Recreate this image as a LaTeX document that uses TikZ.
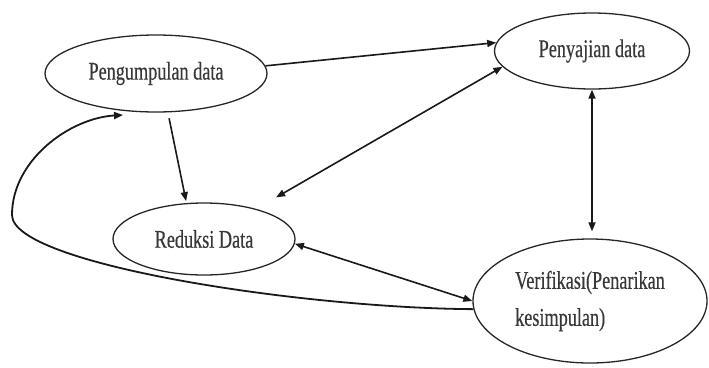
\documentclass[tikz,border=0pt]{standalone}
\usepackage{fontspec}
\usepackage{graphicx}
\setmainfont[FakeBold=0.5]{Liberation Serif}
\usetikzlibrary{arrows.meta,shapes.geometric}
\newcommand{\nt}[1]{\scalebox{0.714}[1]{#1}}
\tikzset{
  el/.style={draw=black!85, line width=1.3pt, ellipse, inner sep=0pt,
    font=\fontsize{25.5}{37}\selectfont, text=black!78},
  arr/.style={line width=1.6pt, draw=black!90, -{Triangle[length=9pt,width=7pt]}},
  darr/.style={line width=1.6pt, draw=black!90, {Triangle[length=9pt,width=7pt]}-{Triangle[length=9pt,width=7pt]}}
}
\begin{document}
\begin{tikzpicture}[x=1pt,y=-1pt]
\useasboundingbox (0,0) rectangle (709,367);
\node[el, minimum width=222pt, minimum height=77pt] (pg) at (156,73.5) {\nt{Pengumpulan data}};
\node[el, minimum width=195pt, minimum height=76pt] (pen) at (592,51) {\nt{Penyajian data}};
\node[el, minimum width=182pt, minimum height=72pt] (red) at (204,239) {\nt{Reduksi Data}};
\node[el, minimum width=234pt, minimum height=124pt, align=left] (ver) at (590,301) {\nt{Verifikasi(Penarikan}\\\nt{kesimpulan)}};
\coordinate (loopL) at (12,215);
% arrows
\draw[arr] (pg.4) -- (pen.175);
\draw[darr, shorten <=23pt] (red.30) -- (pen.190);
\draw[arr, shorten <=6pt, shorten >=2pt] (pg.287) -- (red.116);
\draw[darr, shorten >=7pt] (pen.south) -- (pen.south |- ver.north);
\draw[darr] (red.-3) -- (ver.west);
\draw[arr, line width=1.8pt] (ver.184) .. controls (300,308) and (12,264) .. (loopL)
  .. controls (12,160) and (70,118) .. (123,115);
\end{tikzpicture}
\end{document}
